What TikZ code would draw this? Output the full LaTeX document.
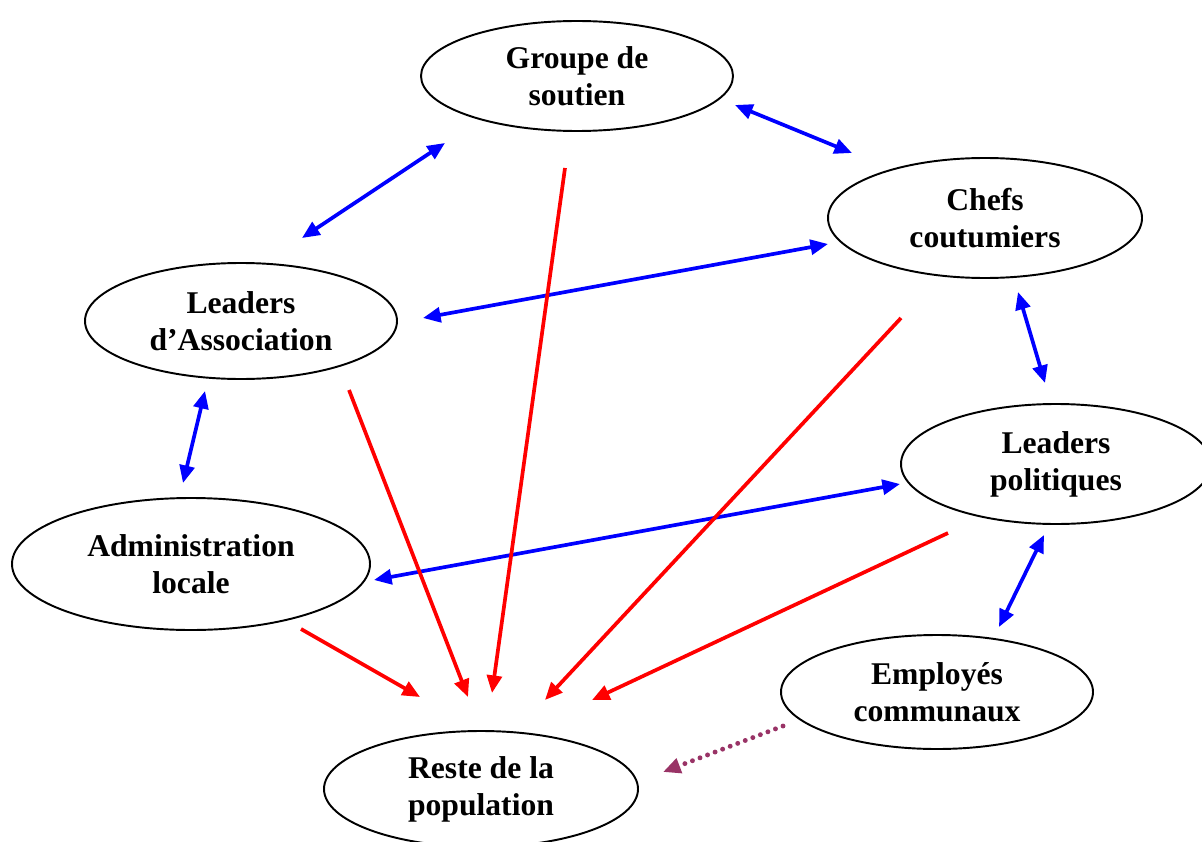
\documentclass[tikz,border=0pt]{standalone}
\usepackage{fontspec}
\setmainfont{Liberation Serif}
\usetikzlibrary{shapes.geometric}
\usetikzlibrary{arrows.meta}
\usetikzlibrary{calc}
\definecolor{prune}{RGB}{153,51,102}

\begin{document}
\begin{tikzpicture}[x=0.02cm, y=-0.02cm,
    acteur/.style={draw, ellipse, line width=1.1pt, align=center, font=\bfseries\fontsize{18}{21}\selectfont, inner sep=0pt},
    lien/.style={blue, line width=2.1pt, {Triangle[length=10pt,width=8.5pt]}-{Triangle[length=10pt,width=8.5pt]}},
    effet/.style={red, line width=2.1pt, -{Triangle[length=10pt,width=8.5pt]}},
    diffus/.style={prune, line width=2.8pt, dash pattern=on 0pt off 4.6pt, line cap=round, -{Triangle[length=10pt,width=8.5pt,line cap=butt]}}]
    \useasboundingbox (0,0) rectangle (1202,841);
    \node[acteur, minimum width=312*0.02cm, minimum height=110*0.02cm] (gs) at (577,76) {Groupe de\\soutien};
    \node[acteur, minimum width=314*0.02cm, minimum height=120*0.02cm] (cc) at (985,218) {Chefs\\coutumiers};
    \node[acteur, minimum width=312*0.02cm, minimum height=116*0.02cm] (la) at (241,321) {Leaders\\d’Association};
    \node[acteur, minimum width=310*0.02cm, minimum height=120*0.02cm] (lp) at (1056,464) {Leaders\\politiques};
    \node[acteur, minimum width=358*0.02cm, minimum height=132*0.02cm] (al) at (191,564) {Administration\\locale};
    \node[acteur, minimum width=312*0.02cm, minimum height=114*0.02cm] (ec) at (937,692) {Employés\\communaux};
    \node[acteur, minimum width=314*0.02cm, minimum height=116*0.02cm] (rp) at (481,789) {Reste de la\\population};
    % points de depart et d'arrivee des fleches
    \coordinate (gs1) at (445,143); \coordinate (la1) at (302,238);
    \coordinate (gs2) at (735,105); \coordinate (cc1) at (852,153);
    \coordinate (cc2) at (828,244); \coordinate (la2) at (423,318);
    \coordinate (cc3) at (1018,292); \coordinate (lp1) at (1045,383);
    \coordinate (la3) at (205,391); \coordinate (al1) at (183,483);
    \coordinate (lp2) at (900,484); \coordinate (al2) at (374,580);
    \coordinate (lp3) at (1044,535); \coordinate (ec1) at (999,627);
    % echanges
    \draw[lien] (gs1) -- (la1);
    \draw[lien] (gs2) -- (cc1);
    \draw[lien] (cc2) -- (la2);
    \draw[lien] (cc3) -- (lp1);
    \draw[lien] (la3) -- (al1);
    \draw[lien] (lp2) -- (al2);
    \draw[lien] (lp3) -- (ec1);
    % vers la population
    \coordinate (gs3) at (565,168); \coordinate (rp1) at (492,693);
    \coordinate (la4) at (349,390); \coordinate (rp2) at (468,697);
    \coordinate (cc4) at (901,318); \coordinate (rp3) at (545,700);
    \coordinate (al3) at (301,629); \coordinate (rp4) at (420,697);
    \coordinate (lp4) at (948,533); \coordinate (rp5) at (592,700);
    \coordinate (ec2) at (783,726); \coordinate (rp6) at (663,772);
    \draw[effet] (gs3) -- (rp1);
    \draw[effet] (la4) -- (rp2);
    \draw[effet] (cc4) -- (rp3);
    \draw[effet] (al3) -- (rp4);
    \draw[effet] (lp4) -- (rp5);
    \draw[diffus] (ec2) -- (rp6);
\end{tikzpicture}
\end{document}
